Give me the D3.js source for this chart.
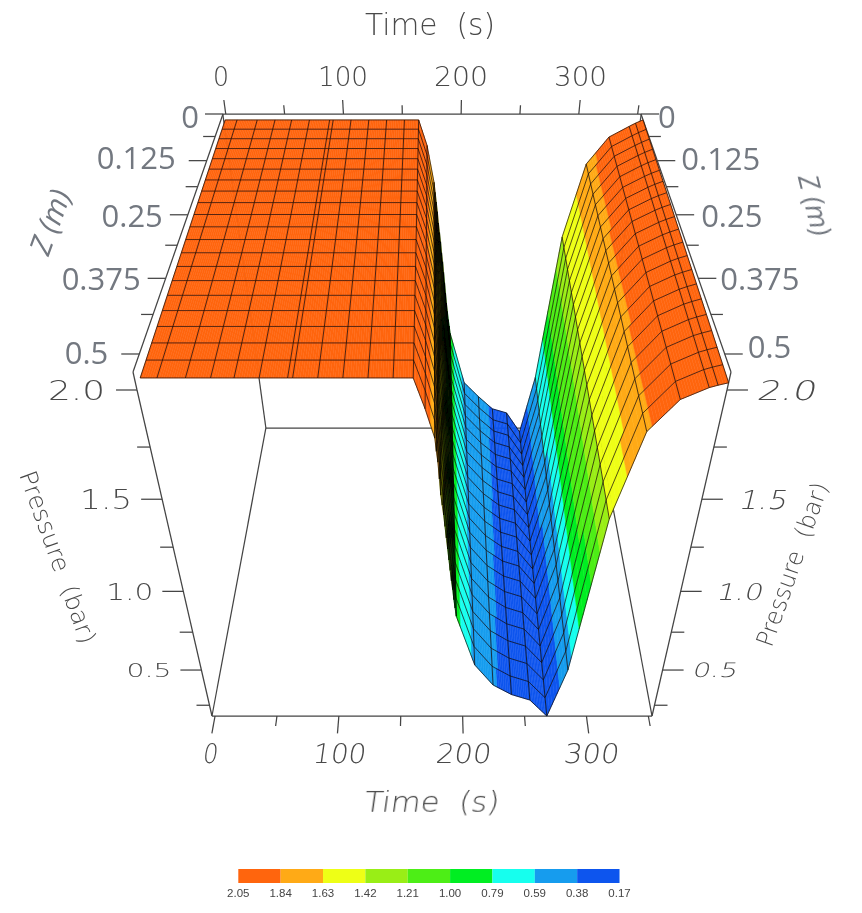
<!DOCTYPE html>
<html><head><meta charset="utf-8">
<style>html,body{margin:0;padding:0;background:#fff}svg{display:block}</style>
<script src="https://cdnjs.cloudflare.com/ajax/libs/d3/7.8.5/d3.min.js"></script>
</head><body><div id="chart"></div>
<script>
// ---- data ----
const timeGrid = [0,10,27,42,56,71,88,91,106,121,136,151,163,170,176,177,178,179,180,181,182,183,184,185,186,187,188,189,190,191,192,207,222,237,252,267,279,293,308,325,341,346,352];
const pressureAtZ0 = [2,2,2,2,2,2,2,2,2,2,2,2,2,1.88,1.70,1.65,1.60,1.55,1.49,1.44,1.39,1.33,1.28,1.22,1.16,1.10,1.04,0.99,0.94,0.90,0.855,0.535,0.44,0.355,0.326,0.19,0.57,1.415,1.79,1.92,1.97,1.985,2.0];
const pressureAtZ05 = [2.05,2.05,2.05,2.05,2.05,2.05,2.05,2.05,2.05,2.05,2.05,2.05,2.05,1.92,1.79,1.73,1.68,1.60,1.52,1.47,1.42,1.36,1.30,1.24,1.18,1.12,1.06,1.01,0.95,0.90,0.85,0.535,0.396,0.328,0.288,0.17,0.50,1.40,1.82,1.96,2.01,2.02,2.03];
const zRows = [0,0.025,0.05,0.075,0.1,0.125,0.15,0.175,0.2,0.225,0.25,0.275,0.3,0.325,0.35,0.375,0.4,0.425,0.45,0.475,0.5];
const legendValues = ["2.05","1.84","1.63","1.42","1.21","1.00","0.79","0.59","0.38","0.17"];
const bandColors = ["#ff6510","#ffaa14","#eeff14","#99ee14","#4dee14","#00ee22","#14ffee","#149cee","#0a55ee"];
const timeMajor = [0,100,200,300], timeMinor = [50,150,250,350];
const zMajor = [0,0.125,0.25,0.375,0.5], zMinor = [0.0625,0.1875,0.3125,0.4375];
const pressureMajor = [2.0,1.5,1.0,0.5], pressureMinor = [1.75,1.25,0.75,0.25];

// ---- layout ----
const W = 862, H = 913, CX = 432;
const depth = {tb:.00478, tf:.00339, fb:.00602, ff:.004545};
const yPos = {tb:114, tf:390, fb:428, ff:716};
const grey = "#737880", ink = "#444";
const lerp = (a,b,f)=>a+(b-a)*f;

const uFrame = d3.scaleLinear([-2.5,353],[0,1]);
const uSurf = d3.scaleLinear([0,352],[.01,1]);
const vSurf = d3.scaleLinear([0,.5],[.03,1]);
const qScale = d3.scaleLinear([.17,2],[0,1]);
const zAxisFrac = d3.scaleLinear([0,.5266],[0,1]);
const colorOf = d3.scaleThreshold()
  .domain(legendValues.slice(1,-1).map(Number).reverse())
  .range(bandColors.slice().reverse());

// perspective projection of the unit cube (u across, v toward viewer, q up)
function bi(o,v,q){return lerp(lerp(o.fb,o.ff,v),lerp(o.tb,o.tf,v),q);}
function project(u,v,q){
  const D = bi(depth,v,q);
  const N = lerp(lerp(yPos.fb*depth.fb,yPos.ff*depth.ff,v),lerp(yPos.tb*depth.tb,yPos.tf*depth.tf,v),q);
  return [CX+(u-.5)*2/D, N/D];
}
// z axes float slightly above the top plane
function zAxisPoint(z,side){
  const a = zAxisFrac(z);
  const D = lerp(.00478,.00339,a);
  const y = lerp(114*.00478,372*.00339,a)/D;
  const hw = lerp(209*.00478,299*.00339,a)/D;
  return [CX+side*hw,y];
}
const svg = d3.select("#chart").append("svg").attr("width",W).attr("height",H);
const blur = svg.append("defs").append("filter").attr("id","soft")
  .attr("x",0).attr("y",0).attr("width",W).attr("height",H).attr("filterUnits","userSpaceOnUse");
blur.append("feGaussianBlur").attr("stdDeviation",.4);
const root = svg.append("g").attr("filter","url(#soft)");
const line = d3.line();
function seg(g,a,b,w=1.25,c=ink){g.append("path").attr("d",line([a,b])).attr("fill","none").attr("stroke",c).attr("stroke-width",w);}

// text helper: wide plotter-like lettering
function plot(g,str,x,y,size,len,o={}){
  const t = g.append("text").attr("x",x).attr("y",y)
    .attr("font-family","'DejaVu Sans'").attr("font-weight",200)
    .attr("font-size",size).attr("fill",o.fill||"#484848")
    .attr("text-anchor",o.anchor||"start")
    .style("white-space","pre").text(str);
  if(len) t.attr("textLength",len).attr("lengthAdjust","spacingAndGlyphs");
  if(o.skew) t.attr("transform",`translate(${x},${y}) skewX(${o.skew}) translate(${-x},${-y})`);
  if(o.rot!==undefined) t.attr("transform",`rotate(${o.rot},${x},${y})`).attr("text-anchor","middle");
  return t;
}

// ---- frame behind the surface ----
const frame = root.append("g");
const u0=0,u1=1;
seg(frame,project(u0,1,0),project(u1,1,0));
seg(frame,project(u0,0,0),project(u0,1,0));
seg(frame,project(u1,0,0),project(u1,1,0));
seg(frame,project(u0,0,0),project(u1,0,0));
seg(frame,project(u0,0,1),project(u0,0,0));
seg(frame,project(u1,0,1),project(u1,0,0));
seg(frame,project(u0,1,1),project(u0,1,0));
seg(frame,project(u1,1,1),project(u1,1,0));
seg(frame,zAxisPoint(0,-1),[zAxisPoint(0,1)[0],114]);
[-1,1].forEach(s=>{
  seg(frame,zAxisPoint(0,s),zAxisPoint(.5266,s));
  seg(frame,zAxisPoint(.5266,s),project(s<0?u0:u1,1,1));
});

// ---- surface ----
const rowT = z=>z/.5;
function surfacePoint(t,z,p){return project(uSurf(t),vSurf(z),qScale(p));}
const pAt = (i,z)=>lerp(pressureAtZ0[i],pressureAtZ05[i],rowT(z));
const cells=[];
for(let r=0;r<zRows.length-1;r++){
  for(let c=0;c<timeGrid.length-1;c++){
    const t0=timeGrid[c],t1=timeGrid[c+1],n=Math.max(1,Math.ceil((t1-t0)/1.5));
    for(let k=0;k<n;k++){
      const f0=k/n,f1=(k+1)/n;
      const P=(z,f)=>lerp(pAt(c,z),pAt(c+1,z),f), T=f=>lerp(t0,t1,f);
      const a=zRows[r],b=zRows[r+1];
      const pts=[surfacePoint(T(f0),a,P(a,f0)),surfacePoint(T(f1),a,P(a,f1)),surfacePoint(T(f1),b,P(b,f1)),surfacePoint(T(f0),b,P(b,f0))];
      const pm=(P(a,f0)+P(a,f1)+P(b,f0)+P(b,f1))/4;
      cells.push({pts,color:colorOf(pm),d:bi(depth,vSurf((a+b)/2),qScale(pm))});
    }
  }
}
cells.sort((x,y)=>y.d-x.d);
const surf = root.append("g");
surf.selectAll("path.cell").data(cells).join("path").attr("class","cell")
  .attr("d",d=>line(d.pts)+"Z").attr("fill",d=>d.color).attr("stroke",d=>d.color).attr("stroke-width",.5);
const meshStroke="#140a05";
zRows.forEach(z=>{
  surf.append("path").attr("d",line(timeGrid.map((t,i)=>surfacePoint(t,z,pAt(i,z)))))
    .attr("fill","none").attr("stroke",meshStroke).attr("stroke-opacity",.75).attr("stroke-width",.95);
});
timeGrid.forEach((t,i)=>{
  const dense = timeGrid[i+1]-t===1 || t-timeGrid[i-1]===1;
  surf.append("path").attr("d",line(zRows.map(z=>surfacePoint(t,z,pAt(i,z)))))
    .attr("fill","none").attr("stroke",dense?"#000":meshStroke)
    .attr("stroke-opacity",dense?.9:.75).attr("stroke-width",dense?1.2:1);
});

// ---- ticks ----
const ticks = root.append("g");
function timeTicks(vals,len){
  vals.forEach(t=>{
    const u=uFrame(t);
    seg(ticks,project(u,0,1),project(u,0,len.top));
    seg(ticks,project(u,1,0),project(u,1+len.bottom,0));
  });
}
timeTicks(timeMajor,{top:1.035,bottom:.045});
timeTicks(timeMinor,{top:1.022,bottom:.026});
function zTicks(vals,len){
  vals.forEach(z=>{[-1,1].forEach(s=>{
    const a=zAxisPoint(z,s);
    seg(ticks,a,[a[0]+s*len,a[1]]);
  });});
}
zTicks(zMajor,18); zTicks(zMinor,12);
function pTicks(vals,len){
  vals.forEach(p=>{
    const L=project(u0,1,qScale(p)),R=project(u1,1,qScale(p));
    seg(ticks,L,[L[0]-len,L[1]]);
    seg(ticks,R,[R[0]+len,R[1]]);
  });
}
pTicks(pressureMajor,21); pTicks(pressureMinor,13);

// ---- labels ----
const labels = root.append("g");
const topLabelW={0:16,100:50,200:54,300:53}, botLabelW={0:15,100:53,200:55,300:55};
const topCenter={0:221,100:343,200:461,300:580.5}, botCenter={0:209.5,100:338.5,200:462.5,300:590.5};
timeMajor.forEach(t=>{
  plot(labels,String(t),topCenter[t]-topLabelW[t]/2,86,27,topLabelW[t]);
  plot(labels,String(t),botCenter[t]-botLabelW[t]/2,763,27,botLabelW[t],{skew:-8});
});
plot(labels,"Time  (s)",365,35,30,130);
plot(labels,"Time  (s)",363,812,28,135,{skew:-8});
// z numbers
const zText = {0:"0",.125:"0.125",.25:"0.25",.375:"0.375",.5:"0.5"};
const zNudge = {0:[-6,14,-1,14],.125:[-13,8,6,9],.25:[-7,12,7,12],.375:[-7,12,4,12],.5:[-13,10,5,4]};
zMajor.forEach(z=>{
  const n=zNudge[z];
  const L=zAxisPoint(z,-1),R=zAxisPoint(z,1);
  const common=s=>s.attr("font-family","'Open Sans'").attr("font-size",31).attr("fill",grey);
  common(labels.append("text").attr("x",L[0]-18+n[0]).attr("y",L[1]+n[1]).attr("text-anchor","end").text(zText[z]));
  common(labels.append("text").attr("x",R[0]+18+n[2]).attr("y",R[1]+n[3]).attr("text-anchor","start").text(zText[z]));
});
// pressure numbers
const pLayout = {2.0:{size:27,l:57,r:59,g:[11,8]},1.5:{size:26,l:52,r:48,g:[9,15]},1.0:{size:23,l:47,r:46,g:[9,14]},.5:{size:20,l:45,r:45,g:[9,8]}};
pressureMajor.forEach(p=>{
  const o=pLayout[p],q=qScale(p);
  const L=project(u0,1,q),R=project(u1,1,q),h=o.size*.73;
  plot(labels,p.toFixed(1),L[0]-21-o.g[0]-o.l,L[1]+h/2,o.size,o.l);
  plot(labels,p.toFixed(1),R[0]+21+o.g[1],R[1]+h/2,o.size,o.r,{skew:-14});
});
// axis titles
plot(labels,"Pressure  (bar)",50,560,24,182,{rot:70});
plot(labels,"Pressure  (bar)",800,567,24,172,{rot:-70.7});
[[50,222,-70,30],[815,205,76,28]].forEach(([x,y,a,s])=>{
  labels.append("text").attr("transform",`translate(${x},${y}) rotate(${a})`)
    .attr("text-anchor","middle").attr("dy",".35em").attr("font-family","'Open Sans'").attr("font-style","italic")
    .attr("font-size",s).attr("fill",grey).text("Z (m)");
});

// ---- legend ----
const legendX = d3.scalePoint(legendValues,[238.3,619.5]);
const legend = root.append("g");
legend.selectAll("rect").data(bandColors).join("rect")
  .attr("x",(d,i)=>legendX(legendValues[i])).attr("y",869)
  .attr("width",(d,i)=>legendX(legendValues[i+1])-legendX(legendValues[i])).attr("height",14)
  .attr("fill",d=>d);
legend.selectAll("text").data(legendValues).join("text")
  .attr("x",d=>legendX(d)).attr("y",897).attr("text-anchor","middle")
  .attr("font-family","'Liberation Sans'").attr("font-size",11.5).attr("fill","#444").text(d=>d);
</script></body></html>
